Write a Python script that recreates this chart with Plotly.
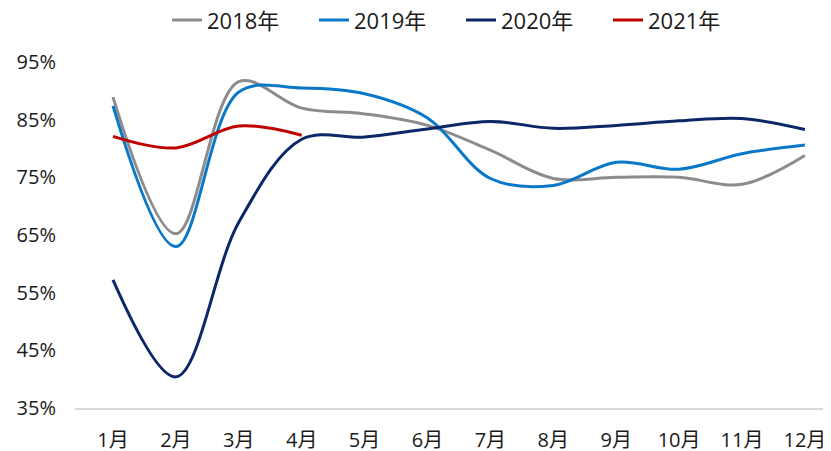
import plotly.graph_objects as go

months = ["1月", "2月", "3月", "4月", "5月", "6月", "7月", "8月", "9月", "10月", "11月", "12月"]
y2018 = [88.9, 65.2, 91.6, 87.0, 86.0, 84.0, 79.7, 74.8, 75.0, 75.0, 73.8, 78.8]
y2019 = [87.4, 63.0, 89.8, 90.5, 89.5, 85.3, 74.8, 73.6, 77.6, 76.4, 79.1, 80.6]
y2020 = [57.2, 40.4, 67.2, 81.6, 82.0, 83.4, 84.7, 83.5, 84.0, 84.8, 85.2, 83.3]
y2021 = [82.1, 80.1, 83.9, 82.3]
yticks = [35, 45, 55, 65, 75, 85, 95]

series = [
    ("2018年", y2018, "#8c8c8c"),
    ("2019年", y2019, "#0a78c8"),
    ("2020年", y2020, "#0b2768"),
    ("2021年", y2021, "#c00000"),
]

fig = go.Figure()
for name, vals, color in series:
    fig.add_trace(go.Scatter(
        x=list(range(len(vals))), y=vals, name=name, mode="lines",
        line=dict(color=color, width=3, shape="spline", smoothing=1.0),
    ))

font = "Open Sans, Noto Sans CJK SC, sans-serif"
fig.update_layout(
    width=823, height=443,
    margin=dict(l=67, r=0, t=54, b=43, autoexpand=False),
    paper_bgcolor="white", plot_bgcolor="white",
    font=dict(family=font, size=20, color="#1a1a1a"),
    showlegend=True,
    legend=dict(orientation="h", x=0.1217, xanchor="left", y=1.121, yanchor="middle",
                font=dict(size=22), tracegroupgap=0, entrywidth=102),
    xaxis=dict(
        range=[-0.604, 11.415], tickmode="array",
        tickvals=list(range(12)), ticktext=months, tickangle=0,
        showgrid=False, zeroline=False, showline=True, linecolor="#d9d9d9", linewidth=1.5,
        ticks="", ticklabelstandoff=13, automargin=False,
    ),
    yaxis=dict(
        range=[35, 95], tickmode="array", tickvals=yticks,
        ticktext=[f"{v}%" for v in yticks],
        showgrid=False, zeroline=False, showline=False, ticks="",
        ticklabelstandoff=18, automargin=False,
    ),
)
fig.write_html("out.html")
